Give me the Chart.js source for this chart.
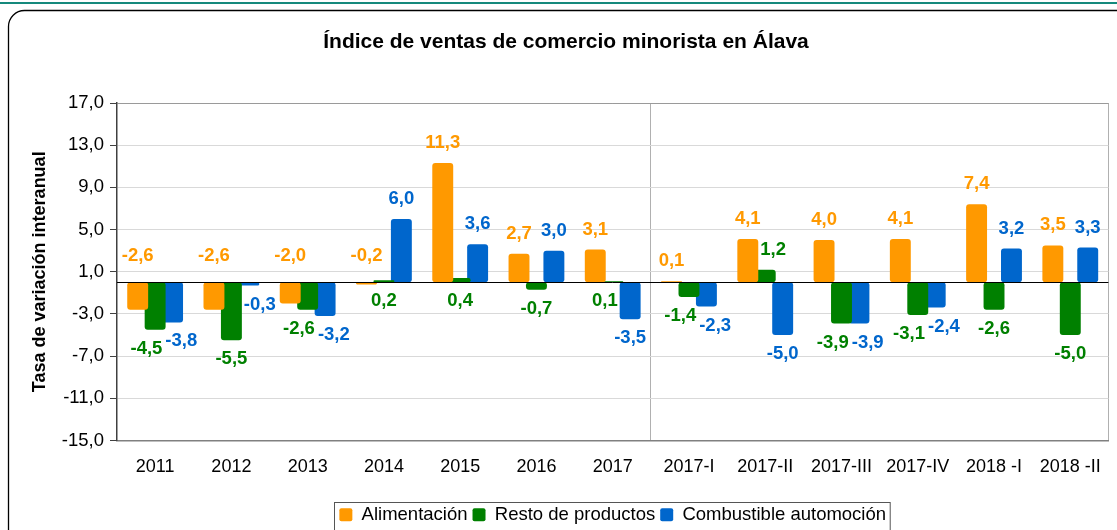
<!DOCTYPE html>
<html>
<head>
<meta charset="utf-8">
<script src="https://cdn.jsdelivr.net/npm/chart.js@4/dist/chart.umd.min.js"></script>
<style>
  html, body { margin: 0; padding: 0; background: #fff; overflow: hidden; }
  #wrap { width: 1117px; height: 530px; overflow: hidden; position: relative; }
  canvas { display: block; }
</style>
</head>
<body>
<div id="wrap"><canvas id="chart" width="1117" height="545"></canvas></div>
<script>
var title = 'Índice de ventas de comercio minorista en Álava';
var yTitle = 'Tasa de variación interanual';

var categories = ['2011', '2012', '2013', '2014', '2015', '2016', '2017',
  '2017-I', '2017-II', '2017-III', '2017-IV', '2018 -I', '2018 -II'];

var alimentacion = [-2.6, -2.6, -2.0, -0.2, 11.3, 2.7, 3.1, 0.1, 4.1, 4.0, 4.1, 7.4, 3.5];
var restoProductos = [-4.5, -5.5, -2.6, 0.2, 0.4, -0.7, 0.1, -1.4, 1.2, -3.9, -3.1, -2.6, -5.0];
var combustible = [-3.8, -0.3, -3.2, 6.0, 3.6, 3.0, -3.5, -2.3, -5.0, -3.9, -2.4, 3.2, 3.3];

var yMin = -15;
var yMax = 17;
var yStep = 4;

// where the yearly block ends and the quarters start
var splitAfter = 6;

var FONT = '"Liberation Sans", Arial, sans-serif';
var colors = ['#FF9900', '#008000', '#0066CC'];

var fmt = v => v.toFixed(1).replace('.', ',');

// frame round the whole chart + teal line on top
var framePlugin = {
  id: 'frame',
  beforeDraw(chart) {
    var ctx = chart.ctx;
    ctx.save();
    ctx.fillStyle = '#fff';
    ctx.fillRect(0, 0, chart.width, chart.height);
    ctx.fillStyle = '#15897c';
    ctx.fillRect(0, 2, chart.width, 2);
    ctx.strokeStyle = '#000';
    ctx.lineWidth = 1.3;
    ctx.beginPath();
    ctx.roundRect(8.5, 10.5, chart.width + 30, chart.height + 30, 16);
    ctx.stroke();
    ctx.restore();
  }
};

// zero line and value labels
var labelPlugin = {
  id: 'valueLabels',
  afterDatasetsDraw(chart) {
    var ctx = chart.ctx;
    var y = chart.scales.y;
    var area = chart.chartArea;
    var zero = Math.round(y.getPixelForValue(0)) + 0.5;
    ctx.save();
    ctx.strokeStyle = '#000';
    ctx.lineWidth = 1;
    ctx.beginPath();
    ctx.moveTo(area.left, zero);
    ctx.lineTo(area.right, zero);
    ctx.stroke();

    ctx.font = 'bold 18.5px ' + FONT;
    ctx.textAlign = 'center';
    ctx.textBaseline = 'middle';
    // value from which the label goes above the bar
    var aboveFrom = [-Infinity, 1, 0];
    var halfH = 8;

    categories.forEach((cat, i) => {
      var bars = chart.data.datasets.map((ds, di) => chart.getDatasetMeta(di).data[i]);
      var items = chart.data.datasets.map((ds, di) => {
        var bar = bars[di];
        var v = ds.data[i];
        var ly;
        if (v >= aboveFrom[di]) {
          ly = Math.min(bar.y, bar.base) - (v < 0 ? 26 : 20);
        } else {
          ly = Math.max(bar.y, bar.base) + 19;
        }
        var text = fmt(v);
        return { text: text, x: bar.x, y: ly, w: ctx.measureText(text).width, color: colors[di], di: di };
      });
      // keep labels off the neighbouring bars
      items.forEach(it => {
        bars.forEach((bar, bi) => {
          if (bi === it.di) return;
          var bl = bar.x - bar.width / 2, br = bar.x + bar.width / 2;
          var bt = Math.min(bar.y, bar.base), bb = Math.max(bar.y, bar.base);
          var ll = it.x - it.w / 2, lr = it.x + it.w / 2;
          if (lr <= bl || ll >= br || it.y + halfH <= bt || it.y - halfH >= bb) return;
          if (it.x < bar.x) it.x -= lr - bl + 2;
          else it.x += br - ll + 2;
        });
      });
      // push neighbouring labels apart when they collide
      for (var a = 0; a < items.length; a++) {
        for (var b = a + 1; b < items.length; b++) {
          var p = items[a], q = items[b];
          if (Math.abs(p.y - q.y) >= halfH * 2) continue;
          var overlap = (p.x + p.w / 2 + 3) - (q.x - q.w / 2);
          if (overlap > 0) {
            p.x -= overlap / 2;
            q.x += overlap / 2;
          }
        }
      }
      items.forEach(it => {
        ctx.fillStyle = it.color;
        ctx.fillText(it.text, it.x, it.y);
      });
    });
    ctx.restore();
  },
  afterDraw(chart) {
    // box round the legend, open at the bottom like the source
    var boxes = chart.legend.legendHitBoxes;
    if (!boxes || !boxes.length) return;
    var left = Math.min(...boxes.map(b => b.left)) - 5;
    var right = Math.max(...boxes.map(b => b.left + b.width)) + 4;
    var top = boxes[0].top - 4;
    var ctx = chart.ctx;
    ctx.save();
    ctx.strokeStyle = '#555';
    ctx.lineWidth = 1;
    ctx.strokeRect(Math.round(left) + 0.5, Math.round(top) + 0.5, right - left, 60);
    ctx.restore();
  }
};

var makeDataset = (label, data, color) => ({
  label: label,
  data: data,
  backgroundColor: color,
  borderRadius: 3,
  borderSkipped: false,
  categoryPercentage: 0.686,
  barPercentage: 1.2,
});

new Chart(document.getElementById('chart'), {
  type: 'bar',
  data: {
    labels: categories,
    datasets: [
      makeDataset('Alimentación', alimentacion, colors[0]),
      makeDataset('Resto de productos', restoProductos, colors[1]),
      makeDataset('Combustible automoción', combustible, colors[2]),
    ],
  },
  plugins: [framePlugin, labelPlugin],
  options: {
    responsive: false,
    animation: false,
    devicePixelRatio: 1,
    layout: { padding: { left: 20, right: 5, top: 0, bottom: 11 } },
    plugins: {
      title: {
        display: true,
        text: title,
        color: '#000',
        font: { family: FONT, size: 21, weight: 'bold' },
        padding: { top: 29.4, bottom: 48.4 },
      },
      legend: {
        position: 'bottom',
        fullSize: false,
        labels: {
          color: '#000',
          font: { family: FONT, size: 18.5 },
          boxWidth: 13,
          boxHeight: 13,
          padding: 5,
          useBorderRadius: true,
          borderRadius: 2,
        },
      },
      tooltip: { enabled: false },
    },
    scales: {
      x: {
        afterFit: scale => { scale.height = 60; },
        grid: {
          offset: true,
          drawTicks: false,
          color: c => (c.index === splitAfter + 1 || c.type === 'scale') ? '#b0b0b0' : 'rgba(0,0,0,0)',
        },
        border: { display: true, color: '#808080', width: 1.5 },
        ticks: {
          color: '#000',
          font: { family: FONT, size: 18 },
          padding: 16,
          maxRotation: 0,
          autoSkip: false,
        },
      },
      y: {
        min: yMin,
        max: yMax,
        afterFit: scale => { scale.width = 97; },
        afterBuildTicks: scale => {
          var ticks = [];
          for (var v = yMin; v <= yMax; v += yStep) ticks.push({ value: v });
          scale.ticks = ticks;
        },
        grid: {
          color: c => c.tick && c.tick.value === yMax ? '#9a9a9a' : (c.tick && c.tick.value === yMin ? '#808080' : '#d9d9d9'),
          tickLength: 7,
          tickColor: '#404040',
        },
        border: { color: '#404040', width: 1.5 },
        ticks: {
          color: '#000',
          font: { family: FONT, size: 18.5 },
          padding: 6,
          callback: v => fmt(v),
        },
        title: {
          display: true,
          text: yTitle,
          color: '#000',
          font: { family: FONT, size: 18, weight: 'bold' },
          padding: { top: 9, bottom: 0 },
        },
      },
    },
  },
});
</script>
</body>
</html>
